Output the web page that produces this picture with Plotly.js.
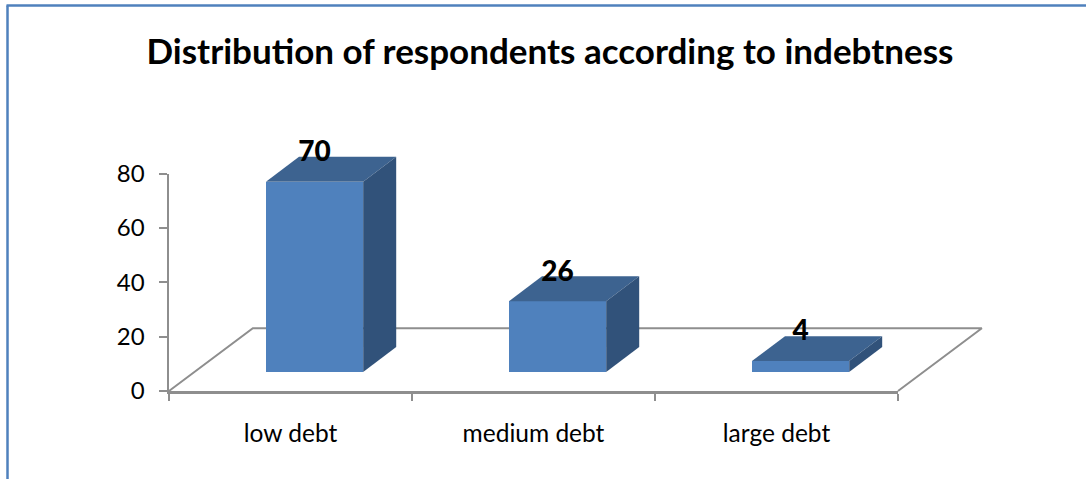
<!DOCTYPE html>
<html>
<head>
<meta charset="utf-8">
<script src="https://cdn.plot.ly/plotly-3.0.1.min.js"></script>
<style>html,body{margin:0;padding:0;background:#fff;overflow:hidden}</style>
</head>
<body>
<div id="chart" style="width:1086px;height:479px"></div>
<script>
// Survey results
const categories = ["low debt", "medium debt", "large debt"];
const respondents = [70, 26, 4];
const yTicks = [0, 20, 40, 60, 80];

// Pseudo-3D projection, in axis units
const floorDepthX = 0.345, floorDepthY = 23.1;
const barWidth = 0.4, barShiftX = 0.099, barBase = 7;
const barDepthX = 0.136, barDepthY = 9.17;
const labelLift = 10.2;

const colors = {front: "#4F81BD", top: "#3D6390", side: "#31527A", axis: "#8E8E8E", frame: "#4F81BD"};
const fontFamily = "Lato, 'Open Sans', sans-serif";

const W = 1086, H = 479;
const margin = {l: 100, r: 60, t: 100, b: 70, pad: 0};
const plotW = W - margin.l - margin.r, plotH = H - margin.t - margin.b;

// Pixel box of the visible axes; the canvas subplots share its scale but extend past it
const axesBox = {left: 169, right: 898, top: 173.5, bottom: 391};
const xUnit = (axesBox.right - axesBox.left) / 3;
const yUnit = (axesBox.bottom - axesBox.top) / 80;
const axisDomainX = [(axesBox.left - margin.l) / plotW, (axesBox.right - margin.l) / plotW];
const axisDomainY = [(H - margin.b - axesBox.bottom) / plotH, (H - margin.b - axesBox.top) / plotH];
const canvasRangeX = [(margin.l - axesBox.left) / xUnit, (W - margin.r - axesBox.left) / xUnit];
const canvasRangeY = [(axesBox.bottom - (H - margin.b)) / yUnit, (axesBox.bottom - margin.t) / yUnit];

const paperX = px => (px - margin.l) / plotW;
const paperY = py => (H - margin.b - py) / plotH;

const centers = categories.map((_, i) => i + 0.5 + barShiftX);

const faceTrace = (xs, ys, color) => ({
  type: "scatter", mode: "lines", xaxis: "x3", yaxis: "y3",
  x: xs, y: ys, fill: "toself", fillcolor: color,
  line: {width: 0, color: color}, showlegend: false, hoverinfo: "skip"
});

// Keeps the visible axes bound to the same values
const axisHolder = {
  type: "scatter", mode: "none", x: centers, y: respondents,
  showlegend: false, hoverinfo: "skip"
};

const floor = {
  type: "scatter", mode: "lines", xaxis: "x2", yaxis: "y2",
  x: [0, floorDepthX, 3 + floorDepthX, 3],
  y: [0, floorDepthY, floorDepthY, 0],
  line: {color: colors.axis, width: 2},
  showlegend: false, hoverinfo: "skip"
};

const bars = {
  type: "bar", xaxis: "x3", yaxis: "y3",
  x: centers, y: respondents, base: barBase, width: barWidth,
  marker: {color: colors.front, line: {width: 0}},
  showlegend: false, hoverinfo: "skip"
};

const faces = [];
respondents.forEach((v, i) => {
  const l = centers[i] - barWidth / 2, r = centers[i] + barWidth / 2;
  const b = barBase, t = barBase + v;
  faces.push(faceTrace(
    [l, l + barDepthX, r + barDepthX, r, l],
    [t, t + barDepthY, t + barDepthY, t, t], colors.top));
  faces.push(faceTrace(
    [r, r + barDepthX, r + barDepthX, r, r],
    [b, b + barDepthY, t + barDepthY, t, b], colors.side));
});

const labels = {
  type: "scatter", mode: "text", xaxis: "x3", yaxis: "y3",
  x: centers, y: respondents.map(v => barBase + v + labelLift),
  text: respondents.map(String), textposition: "middle center",
  textfont: {family: fontFamily, size: 28, color: "#000", weight: 900},
  showlegend: false, hoverinfo: "skip"
};

const hiddenAxis = (range, domain, anchor) => ({
  range: range, domain: domain, anchor: anchor, visible: false, fixedrange: true
});

const layout = {
  width: W, height: H, margin: margin,
  paper_bgcolor: "#fff", plot_bgcolor: "rgba(0,0,0,0)",
  font: {family: fontFamily, color: "#000"},
  hovermode: false, showlegend: false, bargap: 0,
  title: {
    text: "<b>Distribution of respondents according to indebtness</b>",
    xref: "container", yref: "container", x: 550 / W, xanchor: "center",
    y: 1 - 52 / H, yanchor: "middle",
    font: {family: fontFamily, size: 35, color: "#000"}
  },
  xaxis: {
    type: "linear", range: [0, 3], domain: axisDomainX, anchor: "y", fixedrange: true,
    showgrid: false, zeroline: false,
    tickmode: "array", tickvals: categories.map((_, i) => i + 0.5), ticktext: categories,
    ticks: "", ticklabelstandoff: 19, tickfont: {family: fontFamily, size: 24.5, color: "#000"},
    showline: true, linecolor: colors.axis, linewidth: 2.5,
    minor: {tickmode: "array", tickvals: [0, 1, 2, 3], ticks: "outside", ticklen: 7, tickwidth: 2, tickcolor: colors.axis, showgrid: false}
  },
  yaxis: {
    range: [0, 80], domain: axisDomainY, anchor: "x", fixedrange: true,
    showgrid: false, zeroline: false,
    tickmode: "array", tickvals: yTicks,
    ticks: "outside", ticklen: 8, tickwidth: 2, tickcolor: colors.axis,
    ticklabelstandoff: 9, tickfont: {family: fontFamily, size: 24, color: "#000"},
    showline: true, linecolor: colors.axis, linewidth: 2.5
  },
  xaxis2: hiddenAxis(canvasRangeX, [0, 1], "y2"),
  yaxis2: hiddenAxis(canvasRangeY, [0, 1], "x2"),
  xaxis3: hiddenAxis(canvasRangeX, [0, 1], "y3"),
  yaxis3: hiddenAxis(canvasRangeY, [0, 1], "x3"),
  // Chart frame: top and left edges only
  shapes: [
    {type: "line", xref: "paper", yref: "paper", x0: paperX(7.5), x1: paperX(7.5), y0: paperY(5.5), y1: paperY(H), line: {color: colors.frame, width: 2.5}},
    {type: "line", xref: "paper", yref: "paper", x0: paperX(6.5), x1: paperX(W), y0: paperY(5.5), y1: paperY(5.5), line: {color: colors.frame, width: 2.5}}
  ]
};

Plotly.newPlot("chart", [axisHolder, floor, bars, ...faces, labels], layout, {displayModeBar: false, staticPlot: true});
</script>
</body>
</html>
